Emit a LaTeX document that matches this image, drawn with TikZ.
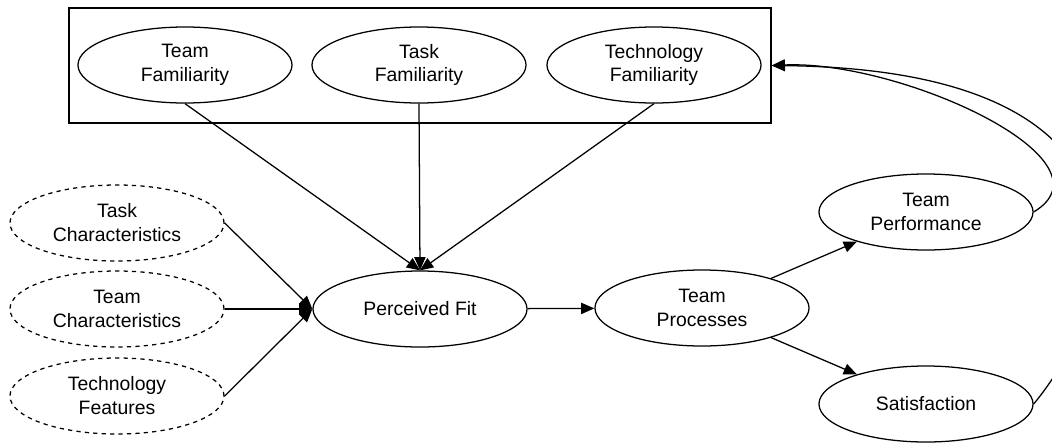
\documentclass[tikz,border=0pt]{standalone}
\usepackage{fontspec}
\setmainfont{Liberation Sans}
\usetikzlibrary{positioning,arrows.meta,shapes.geometric}

\begin{document}
\begin{tikzpicture}[x=0.025cm, y=-0.025cm, line width=0.9pt,
    every node/.style={align=center, font=\fontsize{13.8}{17}\selectfont},
    construct/.style={ellipse, draw, minimum width=5.35cm, minimum height=1.9cm, inner sep=0pt},
    antecedent/.style={construct, dashed},
    link/.style={-{Triangle[length=3.3mm, width=2.8mm]}}]
    \useasboundingbox (0,0) rectangle (1052,442);
    % familiarity group
    \node[draw, rectangle, minimum width=17.55cm, minimum height=2.875cm] (famgroup) at (420,65.5) {};
    \foreach \n/\x/\a in {
        teamfam/185/Team\\ Familiarity,
        taskfam/419/Task\\ Familiarity,
        techfam/654/Technology\\ Familiarity} {
      \node[construct] (\n) at (\x,65) {\a};
    }
    % antecedents
    \foreach \n/\y/\a in {
        taskchar/223/Task\\ Characteristics,
        teamchar/309/Team\\ Characteristics,
        techfeat/396/Technology\\ Features} {
      \node[antecedent] (\n) at (117,\y) {\a};
    }
    \node[construct] (fit) at (420,309) {Perceived Fit};
    \node[construct] (proc) at (702,308) {Team\\ Processes};
    \node[construct] (perf) at (926,212) {Team\\ Performance};
    \node[construct] (sat) at (926,404) {Satisfaction};

    \foreach \n in {teamfam, taskfam, techfam}
      \draw[link] (\n.south) -- (fit.north);
    \foreach \n in {taskchar, teamchar, techfeat}
      \draw[link] (\n.east) -- (fit.west);
    \draw[link] (fit) -- (proc);
    \draw[link] (proc) -- (perf);
    \draw[link] (proc) -- (sat);
    % feedback
    \draw[link] (perf.east) .. controls (1120,160) and (900,60) .. (famgroup.east);
    \draw[link] (sat.east) .. controls (1120,300) and (1180,70) .. (famgroup.east);
\end{tikzpicture}
\end{document}
